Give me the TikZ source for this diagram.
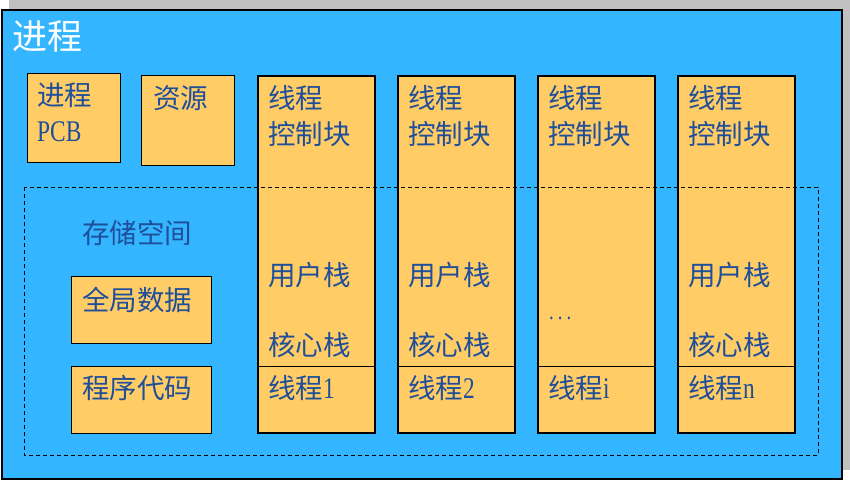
\documentclass[tikz,border=0pt]{standalone}
\usepackage{fontspec}
\newfontfamily\cjk{Noto Sans CJK SC}
\newfontfamily\lat[FakeStretch=0.78]{Liberation Serif}
\definecolor{bgblue}{HTML}{33B5FF}
\definecolor{boxyel}{HTML}{FFCC66}
\definecolor{txtblue}{HTML}{1F4E9A}
\definecolor{shadowgray}{HTML}{C0C0C0}
\tikzset{
  box/.style={draw=black, fill=boxyel, line width=1pt, anchor=north west, inner sep=0pt, outer sep=0pt},
  thbox/.style={draw=black, fill=boxyel, line width=1.8pt, anchor=north west, inner sep=0pt, outer sep=0pt, minimum width=117, minimum height=357},
  lbl/.style={anchor=base west, inner sep=0pt, text=txtblue, font=\cjk\fontsize{27.5}{32}\selectfont},
  latf/.style={font=\lat\fontsize{30}{34}\selectfont},
}
\begin{document}
\begin{tikzpicture}[x=1pt,y=-1pt]
\useasboundingbox (0,0) rectangle (850,503);
% shadow and process box
\fill[shadowgray] (9,0) rectangle (850,470);
\node[draw=black, fill=bgblue, line width=2pt, anchor=north west, inner sep=0pt, minimum width=840, minimum height=469] (proc) at (1,9) {};
% small boxes
\node[box, minimum width=93, minimum height=89] (pcb) at (27,73) {};
\node[box, minimum width=93, minimum height=90] (res) at (141,75) {};
\node[box, minimum width=140, minimum height=67] (data) at (71,276) {};
\node[box, minimum width=140, minimum height=67] (code) at (71,366) {};
% thread boxes
\foreach \i/\x in {1/258,2/398,3/538,4/678}{
  \node[thbox] (t\i) at (\x,76) {};
  \coordinate (d\i l) at (\x,366);
  \coordinate (d\i r) at (\x+117,366);
  \draw[line width=1pt] (d\i l) -- (d\i r);
}
% dashed storage area
\coordinate (sa) at (24,187);
\coordinate (sb) at (818,455);
\draw[line width=0.9pt, dash pattern=on 4pt off 3pt] (sa) rectangle (sb);
% texts
\node[anchor=base west, inner sep=0pt, text=white, font=\cjk\fontsize{35}{40}\selectfont] (ptitle) at (12,49) {进程};
\node[lbl] (pcb1) at (37,105) {进程};
\node[lbl, latf] (pcb2) at (37,141) {PCB};
\node[lbl] (res1) at (153,108) {资源};
\node[lbl] (stor) at (82,243) {存储空间};
\node[lbl] (data1) at (82,310) {全局数据};
\node[lbl] (code1) at (82,398) {程序代码};
\foreach \i/\x/\n in {1/268/1,2/408/2,3/548/i,4/688/n}{
  \node[lbl] (tc\i a) at (\x,108) {线程};
  \node[lbl] (tc\i b) at (\x,144) {控制块};
  \node[lbl] (tn\i) at (\x,398) {线程{\lat\fontsize{30}{34}\selectfont\n}};
}
\foreach \i/\x in {1/268,2/408,4/688}{
  \node[lbl] (us\i) at (\x,285) {用户栈};
  \node[lbl] (ks\i) at (\x,355) {核心栈};
}
\node[lbl, font=\lat\fontsize{24}{28}\selectfont] (dots) at (549,319) {.\hspace{4pt}.\hspace{4pt}.};
\end{tikzpicture}
\end{document}
